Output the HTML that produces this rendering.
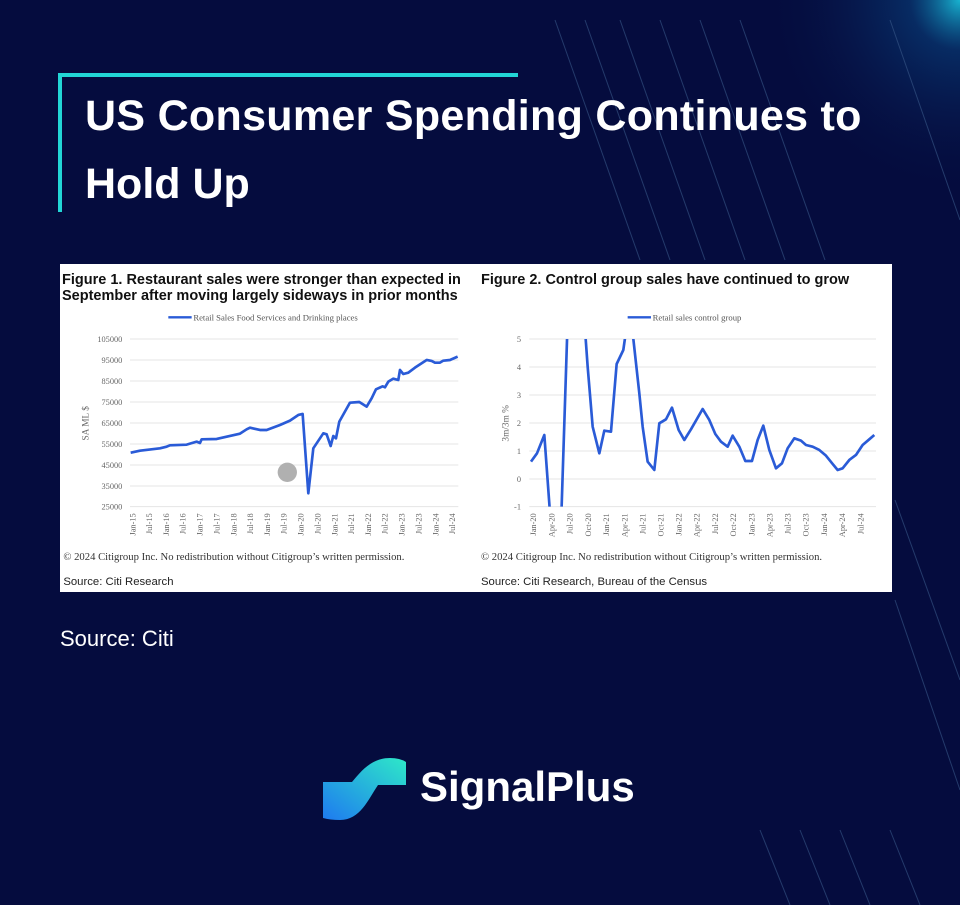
<!DOCTYPE html>
<html><head><meta charset="utf-8"><style>
html,body{margin:0;padding:0;background:#050c3e;}
body{width:960px;height:905px;position:relative;overflow:hidden;font-family:"Liberation Sans",sans-serif;}
.t{position:absolute;color:#fff;font-weight:bold;}
</style></head><body>
<svg width="960" height="905" style="position:absolute;left:0;top:0">
<defs>
<radialGradient id="g1" cx="1" cy="0" r="1"><stop offset="0" stop-color="#1ac6e0" stop-opacity="0.9"/><stop offset="0.25" stop-color="#0b5a9a" stop-opacity="0.4"/><stop offset="1" stop-color="#050c3e" stop-opacity="0"/></radialGradient>
<radialGradient id="g2" cx="0" cy="0.5" r="0.5"><stop offset="0" stop-color="#1aa6d8" stop-opacity="0.7"/><stop offset="1" stop-color="#050c3e" stop-opacity="0"/></radialGradient>
<linearGradient id="lg" x1="0" y1="1" x2="1" y2="0"><stop offset="0" stop-color="#1e7af0"/><stop offset="1" stop-color="#2ee8c8"/></linearGradient>
<clipPath id="c2"><rect x="150" y="237" width="1060" height="503"/></clipPath>
</defs>
<rect x="760" y="0" width="200" height="200" fill="url(#g1)"/>
<rect x="-100" y="600" width="200" height="300" fill="url(#g2)"/>
<g stroke="#3a5a8a" stroke-width="1" opacity="0.6">
<line x1="555" y1="20" x2="640" y2="260"/><line x1="585" y1="20" x2="670" y2="260"/><line x1="620" y1="20" x2="705" y2="260"/>
<line x1="660" y1="20" x2="745" y2="260"/><line x1="700" y1="20" x2="785" y2="260"/><line x1="740" y1="20" x2="825" y2="260"/>
<line x1="890" y1="20" x2="960" y2="220"/>
<line x1="895" y1="600" x2="960" y2="790"/><line x1="895" y1="500" x2="960" y2="680"/>
<line x1="760" y1="830" x2="790" y2="905"/><line x1="800" y1="830" x2="830" y2="905"/><line x1="840" y1="830" x2="870" y2="905"/><line x1="890" y1="830" x2="920" y2="905"/>
</g>
<path d="M518 75 H60 V212" fill="none" stroke="#22d6d6" stroke-width="4"/>
<rect x="60" y="264" width="832" height="328" fill="#fff"/>
<g transform="translate(60,260) scale(0.3333)" font-family="Liberation Serif,serif">
<g stroke="#e4e4e4" stroke-width="3">
<line x1="210" y1="237" x2="1195" y2="237"/><line x1="210" y1="300" x2="1195" y2="300"/><line x1="210" y1="363" x2="1195" y2="363"/><line x1="210" y1="426" x2="1195" y2="426"/><line x1="210" y1="489" x2="1195" y2="489"/><line x1="210" y1="552" x2="1195" y2="552"/><line x1="210" y1="615" x2="1195" y2="615"/><line x1="210" y1="678" x2="1195" y2="678"/><line x1="210" y1="740" x2="1195" y2="740"/>
</g>
<g font-size="25" fill="#666" text-anchor="end">
<text x="187" y="246">105000</text><text x="187" y="309">95000</text><text x="187" y="372">85000</text><text x="187" y="435">75000</text><text x="187" y="498">65000</text><text x="187" y="561">55000</text><text x="187" y="624">45000</text><text x="187" y="687">35000</text><text x="187" y="749">25000</text>
</g>
<text transform="translate(85,490) rotate(-90)" font-size="28" fill="#666" text-anchor="middle">SA ML $</text>
<line x1="325" y1="172" x2="395" y2="172" stroke="#2a5bd7" stroke-width="7"/>
<text x="400" y="181" font-size="26" fill="#555">Retail Sales Food Services and Drinking places</text>
<circle cx="682" cy="637" r="29" fill="#b0b0b0"/>
<polyline fill="none" stroke="#2a5bd7" stroke-width="8" stroke-linejoin="round" points="212,578 240,572 300,565 320,560 330,556 380,554 400,548 410,545 420,549 425,538 470,537 500,530 540,521 560,508 570,503 600,510 620,510 660,495 690,482 715,465 728,462 745,700 760,565 790,520 800,523 812,558 820,528 828,535 838,485 870,428 898,426 920,440 935,415 948,388 968,379 975,382 985,365 1000,356 1015,360 1020,330 1030,342 1045,338 1065,323 1100,300 1115,303 1125,308 1140,308 1150,302 1170,300 1193,290"/>
<g font-size="25" fill="#666" text-anchor="end">
<text transform="translate(226,760) rotate(-90)">Jan-15</text><text transform="translate(276,760) rotate(-90)">Jul-15</text><text transform="translate(327,760) rotate(-90)">Jan-16</text><text transform="translate(377,760) rotate(-90)">Jul-16</text><text transform="translate(428,760) rotate(-90)">Jan-17</text><text transform="translate(478,760) rotate(-90)">Jul-17</text><text transform="translate(529,760) rotate(-90)">Jan-18</text><text transform="translate(579,760) rotate(-90)">Jul-18</text><text transform="translate(630,760) rotate(-90)">Jan-19</text><text transform="translate(680,760) rotate(-90)">Jul-19</text><text transform="translate(731,760) rotate(-90)">Jan-20</text><text transform="translate(781,760) rotate(-90)">Jul-20</text><text transform="translate(832,760) rotate(-90)">Jan-21</text><text transform="translate(882,760) rotate(-90)">Jul-21</text><text transform="translate(933,760) rotate(-90)">Jan-22</text><text transform="translate(983,760) rotate(-90)">Jul-22</text><text transform="translate(1034,760) rotate(-90)">Jan-23</text><text transform="translate(1084,760) rotate(-90)">Jul-23</text><text transform="translate(1135,760) rotate(-90)">Jan-24</text><text transform="translate(1185,760) rotate(-90)">Jul-24</text>
</g>
<text x="10" y="900" font-size="32" fill="#333">© 2024 Citigroup Inc. No redistribution without Citigroup’s written permission.</text>
<text x="10" y="975" font-size="34" fill="#222" font-family="Liberation Sans Narrow,Liberation Sans,sans-serif">Source: Citi Research</text>
</g>
<g transform="translate(476,260) scale(0.3333)" font-family="Liberation Serif,serif">
<g stroke="#e4e4e4" stroke-width="3">
<line x1="160" y1="237" x2="1200" y2="237"/><line x1="160" y1="321" x2="1200" y2="321"/><line x1="160" y1="405" x2="1200" y2="405"/><line x1="160" y1="489" x2="1200" y2="489"/><line x1="160" y1="573" x2="1200" y2="573"/><line x1="160" y1="657" x2="1200" y2="657"/><line x1="160" y1="740" x2="1200" y2="740"/>
</g>
<g font-size="25" fill="#666" text-anchor="end">
<text x="135" y="246">5</text><text x="135" y="330">4</text><text x="135" y="414">3</text><text x="135" y="498">2</text><text x="135" y="582">1</text><text x="135" y="666">0</text><text x="135" y="749">-1</text>
</g>
<text transform="translate(98,490) rotate(-90)" font-size="28" fill="#666" text-anchor="middle">3m/3m %</text>
<line x1="455" y1="172" x2="525" y2="172" stroke="#2a5bd7" stroke-width="7"/>
<text x="530" y="181" font-size="26" fill="#555">Retail sales control group</text>
<polyline clip-path="url(#c2)" fill="none" stroke="#2a5bd7" stroke-width="8" stroke-linejoin="round" points="165,605 183,580 205,525 225,800 255,800 275,180 325,180 335,320 350,500 370,580 385,512 405,515 422,312 442,270 452,200 468,200 490,400 500,500 515,605 535,630 550,490 570,478 588,443 608,510 625,540 645,508 680,447 700,480 718,522 735,545 755,560 770,527 790,560 808,603 828,603 845,540 862,497 880,570 900,625 918,610 935,565 955,535 975,542 990,555 1010,560 1030,570 1050,587 1070,612 1085,630 1100,625 1120,600 1140,585 1160,555 1180,538 1195,525"/>
<g font-size="25" fill="#666" text-anchor="end">
<text transform="translate(180,760) rotate(-90)">Jan-20</text><text transform="translate(236,760) rotate(-90)">Apr-20</text><text transform="translate(290,760) rotate(-90)">Jul-20</text><text transform="translate(345,760) rotate(-90)">Oct-20</text><text transform="translate(399,760) rotate(-90)">Jan-21</text><text transform="translate(454,760) rotate(-90)">Apr-21</text><text transform="translate(508,760) rotate(-90)">Jul-21</text><text transform="translate(562,760) rotate(-90)">Oct-21</text><text transform="translate(617,760) rotate(-90)">Jan-22</text><text transform="translate(671,760) rotate(-90)">Apr-22</text><text transform="translate(726,760) rotate(-90)">Jul-22</text><text transform="translate(780,760) rotate(-90)">Oct-22</text><text transform="translate(835,760) rotate(-90)">Jan-23</text><text transform="translate(889,760) rotate(-90)">Apr-23</text><text transform="translate(944,760) rotate(-90)">Jul-23</text><text transform="translate(998,760) rotate(-90)">Oct-23</text><text transform="translate(1053,760) rotate(-90)">Jan-24</text><text transform="translate(1107,760) rotate(-90)">Apr-24</text><text transform="translate(1162,760) rotate(-90)">Jul-24</text>
</g>
<text x="15" y="900" font-size="32" fill="#333">© 2024 Citigroup Inc. No redistribution without Citigroup’s written permission.</text>
<text x="15" y="975" font-size="34" fill="#222" font-family="Liberation Sans Narrow,Liberation Sans,sans-serif">Source: Citi Research, Bureau of the Census</text>
</g>
<text x="62" y="284" font-size="14.5" font-weight="bold" fill="#111" font-family="Liberation Sans,sans-serif">Figure 1. Restaurant sales were stronger than expected in</text>
<text x="62" y="300" font-size="14.5" font-weight="bold" fill="#111" font-family="Liberation Sans,sans-serif">September after moving largely sideways in prior months</text>
<text x="481" y="284" font-size="14.5" font-weight="bold" fill="#111" font-family="Liberation Sans,sans-serif">Figure 2. Control group sales have continued to grow</text>
<path d="M323 782 H352 C362 770 372 758 390 758 Q400 758 406 762 V785 H378 C368 800 360 820 340 820 Q330 820 323 818 Z" fill="url(#lg)"/>
</svg>
<div class="t" style="left:85px;top:92px;font-size:43px;letter-spacing:0.3px;">US Consumer Spending Continues to</div>
<div class="t" style="left:85px;top:160px;font-size:43px;">Hold Up</div>
<div style="position:absolute;left:60px;top:626px;color:#fff;font-size:22px;">Source: Citi</div>
<div class="t" style="left:420px;top:763px;font-size:42px;">SignalPlus</div>
</body></html>
